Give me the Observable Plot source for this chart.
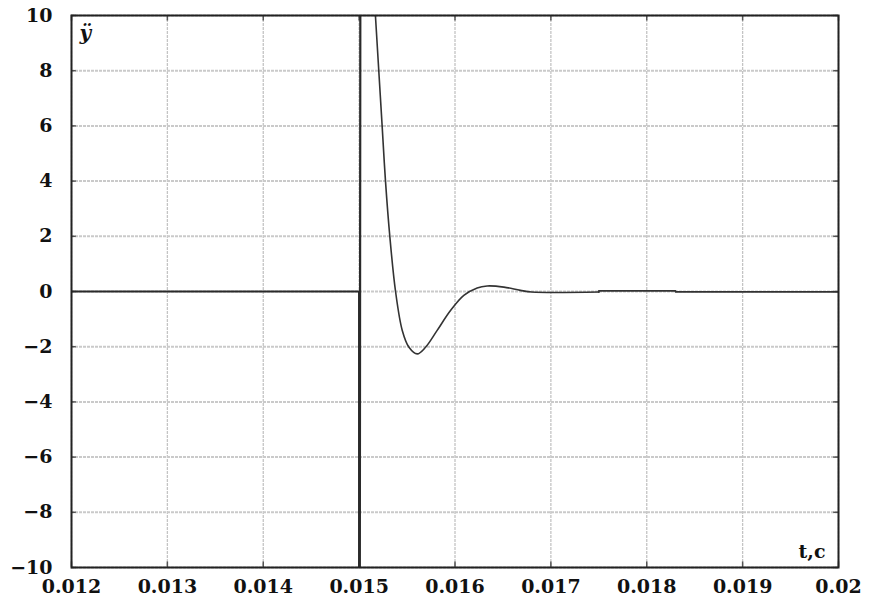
<!DOCTYPE html>
<html>
<head>
<meta charset="utf-8">
<script src="https://cdn.jsdelivr.net/npm/d3@7"></script>
<script src="https://cdn.jsdelivr.net/npm/@observablehq/plot@0.6"></script>
<style>
  body { margin: 0; background: #fff; }
  #chart svg { display: block; }
</style>
</head>
<body>
<div id="chart"></div>
<script>
// Time (s) and acceleration values
const tSpike = [0.012, 0.015, 0.015, 0.01502, 0.01508, 0.01517];
const ySpike = [0, 0, -40, 40, 22, 10];

const tDecay = [0.01517, 0.01524, 0.015275, 0.01532, 0.01538, 0.01545, 0.01552, 0.015606, 0.015693, 0.015814, 0.015953, 0.016092, 0.016231, 0.016335, 0.01651, 0.016683, 0.0168, 0.0175];
const yDecay = [10, 6, 4, 2, 0, -1.41, -2.02, -2.26, -2.02, -1.41, -0.69, -0.14, 0.13, 0.2, 0.16, 0.04, -0.02, -0.02];

const tTail = [0.0175, 0.0175, 0.0183, 0.0183, 0.02];
const yTail = [-0.02, 0.02, 0.02, -0.01, -0.01];

const xTicks = [0.012, 0.013, 0.014, 0.015, 0.016, 0.017, 0.018, 0.019, 0.02];
const yTicks = [-10, -8, -6, -4, -2, 0, 2, 4, 6, 8, 10];

const spike = tSpike.map((t, i) => ({t, y: ySpike[i]}));
const decay = tDecay.map((t, i) => ({t, y: yDecay[i]}));
const tail = tTail.map((t, i) => ({t, y: yTail[i]}));

const fmtX = d => d === 0.02 ? "0.02" : d.toFixed(3);
const fmtY = d => d < 0 ? "\u2212" + Math.abs(d) : String(d);

const chart = Plot.plot({
  width: 871,
  height: 602,
  marginLeft: 71,
  marginRight: 33,
  marginTop: 15,
  marginBottom: 35,
  style: {fontFamily: "DejaVu Serif", fontSize: "19px", fontWeight: "bold", color: "#111", background: "#fff"},
  x: {domain: [0.012, 0.02], ticks: xTicks, tickFormat: fmtX, tickSize: 0, tickPadding: 12, label: null},
  y: {domain: [-10, 10], ticks: yTicks, tickFormat: fmtY, tickSize: 0, tickPadding: 19, label: null},
  marks: [
    Plot.gridX(xTicks, {stroke: "#c4c4c4", strokeOpacity: 1, strokeDasharray: "3,1", strokeWidth: 1.3}),
    Plot.gridY(yTicks, {stroke: "#cacaca", strokeOpacity: 1, strokeDasharray: "3,1", strokeWidth: 2}),
    Plot.ruleX(xTicks, {x: d => d, y1: -10, y2: -9.8, stroke: "#555", strokeWidth: 1.5}),
    Plot.ruleX(xTicks, {x: d => d, y1: 9.8, y2: 10, stroke: "#555", strokeWidth: 1.5}),
    Plot.ruleY(yTicks, {y: d => d, x1: 0.012, x2: 0.01205, stroke: "#555", strokeWidth: 1.5}),
    Plot.ruleY(yTicks, {y: d => d, x1: 0.01995, x2: 0.02, stroke: "#555", strokeWidth: 1.5}),
    Plot.line(spike, {x: "t", y: "y", stroke: "#2a2a2a", strokeWidth: 2.2, clip: true}),
    Plot.line(decay, {x: "t", y: "y", stroke: "#333", strokeWidth: 1.6, curve: "catmull-rom", clip: true}),
    Plot.line(tail, {x: "t", y: "y", stroke: "#333", strokeWidth: 1.8, clip: true}),
    Plot.frame({stroke: "#222", strokeWidth: 2}),
    Plot.text(["\u00ff"], {frameAnchor: "top-left", dx: 8, dy: 10, fontStyle: "italic", fontWeight: "bold", fontSize: 20, fontFamily: "DejaVu Serif", textAnchor: "start", lineAnchor: "top"}),
    Plot.text(["t,c"], {frameAnchor: "bottom-right", dx: -13, dy: -10, fontWeight: "bold", fontSize: 19, fontFamily: "DejaVu Serif", textAnchor: "end", lineAnchor: "bottom"})
  ]
});
document.getElementById("chart").appendChild(chart);
</script>
</body>
</html>
